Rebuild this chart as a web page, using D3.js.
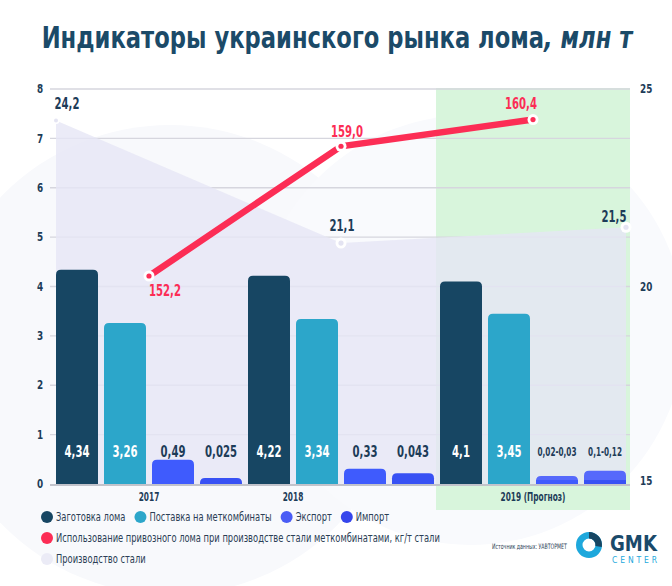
<!DOCTYPE html>
<html><head><meta charset="utf-8">
<script src="https://cdn.jsdelivr.net/npm/d3@7"></script>
<style>
body{margin:0;background:#fff}
svg{display:block}
text{font-family:"DejaVu Sans Condensed","DejaVu Sans","Noto Sans",sans-serif}
</style>
</head><body>
<svg id="c" width="672" height="586"></svg>
<script>
// ---------- data ----------
const years = ["2017", "2018", "2019"];
const yearLabels = ["2017", "2018", "2019 (Прогноз)"];
const seriesNames = ["Заготовка лома", "Поставка на меткомбинаты", "Экспорт", "Импорт"];
const scrapCollection = [4.34, 4.22, 4.1];
const deliveries = [3.26, 3.34, 3.45];
const exportValues = [0.49, 0.31, 0.16];     // drawn bar heights
const exportLower = [0, 0, 0.08];
const importValues = [0.12, 0.22, 0.27];     // drawn bar heights
const importLower = [0, 0, 0.08];
const barValueLabels = [
  ["4,34", "3,26", "0,49", "0,025"],
  ["4,22", "3,34", "0,33", "0,043"],
  ["4,1", "3,45", "0,02-0,03", "0,1-0,12"]
];
const importedScrapUse = [152.2, 159.0, 160.4];
const importedScrapLabels = ["152,2", "159,0", "160,4"];
const steelProduction = [24.2, 21.1, 21.5];
const steelLabels = ["24,2", "21,1", "21,5"];
const leftTicks = [0, 1, 2, 3, 4, 5, 6, 7, 8];
const rightTicks = [15, 20, 25];
const lineLegend = "Использование привозного лома при производстве стали меткомбинатами, кг/т стали";
const areaLegend = "Производство стали";
const sourceText = "Источник данных: УАВТОРМЕТ";

// ---------- style / layout ----------
const C = {
  dark: "#174663", light: "#2ca6ca", exp: "#3f5bfd", imp: "#3851f4", expTop: "#5669fb",
  red: "#fc2d55", area: "#e6e6f5", green: "#d8f5dc", text: "#1d3c58", grid: "#d6d6de"
};
const barColors = [C.dark, C.light, C.exp, C.imp];
const legendColors = [C.dark, C.light, "#4a5cf5", "#3646ec"];
const redLabelOffset = [[16, 14], [6, -15], [-12, -16]];
const areaLabelOffset = [[11, -17], [1, -18], [-12, -11]];
const yearLabelShift = [0, -1, 0]; // in bar steps

const svg = d3.select("#c");
const plotL = 50, plotR = 630, plotT = 89, plotB = 484;

// condensed-text helpers (emulate a condensed typeface with a horizontal scale)
function measure(str, size, weight) {
  const t = svg.append("text").attr("font-size", size).attr("font-weight", weight || "normal").text(str);
  const w = t.node().getComputedTextLength(); t.remove(); return w;
}
function condenser(sample, size, weight, target) { return target / measure(sample, size, weight); }
function squeeze(t, f) {
  const w = t.node().getComputedTextLength();
  const tx = +t.attr("x") || 0, ty = +t.attr("y") || 0;
  t.attr("x", 0).attr("y", 0).attr("transform", `translate(${tx},${ty}) scale(${f},1)`);
  return w * f;
}
const fBig = condenser("152,2", 15.5, "bold", 32);
const fSmall = condenser("0,02-0,03", 11.5, "bold", 39);
const fYear = condenser("2019 (Прогноз)", 12, "bold", 65);
const fLeg = condenser(lineLegend, 12.5, "normal", 384);
const fSrc = condenser(sourceText, 7.5, "normal", 75);
const fTick = 0.82;

// decorative background circles
svg.append("circle").attr("cx", 170).attr("cy", 360).attr("r", 235).attr("fill", "#f8f9fc");
svg.append("circle").attr("cx", 470).attr("cy", 330).attr("r", 215).attr("fill", "#f9fafd");

// scales
const barKeys = [];
years.forEach((y, gi) => seriesNames.forEach((s, si) => barKeys.push(gi + "-" + si)));
const x = d3.scaleBand().domain(barKeys).range([50, 632]).paddingInner(0.125).paddingOuter(0.125);
const bw = x.bandwidth();
const yL = d3.scaleLinear().domain([0, 8]).range([plotB, plotT]);
const yR = d3.scaleLinear().domain([15, 25]).range([plotB, plotT]);
const yRed = d3.scaleLinear().domain([141.3, 162.0]).range([plotB, plotT]);
const groupCenter = gi => (x(gi + "-0") + x(gi + "-3") + bw) / 2;
const xArea = d3.scalePoint().domain(years).range([x("0-0"), x("2-3") + bw]);

// green forecast band
const bandL = x("2-0") - x.step() * x.paddingInner() / 2 - 1;
svg.append("rect").attr("x", bandL).attr("y", plotT - 1).attr("width", plotR - bandL)
  .attr("height", 511 - plotT).attr("fill", C.green);

// gridlines
svg.append("g").selectAll("line").data(leftTicks.filter(d => d > 0)).join("line")
  .attr("x1", plotL).attr("x2", plotR).attr("y1", d => yL(d)).attr("y2", d => yL(d))
  .attr("stroke", C.grid).attr("stroke-width", 1.3);

// area (steel production)
const area = d3.area().x((d, i) => xArea(years[i])).y0(plotB).y1(d => yR(d));
svg.append("path").datum(steelProduction).attr("d", area).attr("fill", C.area).attr("opacity", 0.8);

// baseline
svg.append("line").attr("x1", plotL).attr("x2", plotR).attr("y1", plotB + 1).attr("y2", plotB + 1)
  .attr("stroke", "#c2c3cb").attr("stroke-width", 2);

// bars
function topRounded(x0, y0, w, h, r) {
  r = Math.min(r, h, w / 2);
  return `M${x0},${y0 + h}V${y0 + r}Q${x0},${y0} ${x0 + r},${y0}H${x0 + w - r}Q${x0 + w},${y0} ${x0 + w},${y0 + r}V${y0 + h}Z`;
}
const bars = [];
years.forEach((y, gi) => {
  const vals = [scrapCollection[gi], deliveries[gi], exportValues[gi], importValues[gi]];
  const lows = [0, 0, exportLower[gi], importLower[gi]];
  vals.forEach((v, si) => bars.push({gi, si, v, low: lows[si], label: barValueLabels[gi][si]}));
});
const gb = svg.append("g");
bars.forEach(b => {
  const x0 = x(b.gi + "-" + b.si);
  const isRange = b.low > 0;
  gb.append("path").attr("d", topRounded(x0, yL(b.v), bw, plotB - yL(b.v), 5))
    .attr("fill", isRange ? C.expTop : barColors[b.si]);
  if (isRange) {
    gb.append("rect").attr("x", x0).attr("y", yL(b.low)).attr("width", bw)
      .attr("height", plotB - yL(b.low)).attr("fill", barColors[b.si]);
  }
  const small = b.label.includes("-");
  const t = gb.append("text").attr("x", x0 + bw / 2).attr("y", small ? 456 : 457)
    .attr("text-anchor", "middle").attr("font-weight", "bold")
    .attr("font-size", small ? 11.5 : 15.5)
    .attr("fill", b.si < 2 ? "#ffffff" : C.text).text(b.label);
  squeeze(t, small ? fSmall : fBig);
});

// red line
const redLine = d3.line().x((d, i) => groupCenter(i)).y(d => yRed(d));
svg.append("path").datum(importedScrapUse).attr("d", redLine).attr("fill", "none")
  .attr("stroke", C.red).attr("stroke-width", 6.5);
importedScrapUse.forEach((v, i) => {
  const cx = groupCenter(i), cy = yRed(v);
  svg.append("circle").attr("cx", cx).attr("cy", cy).attr("r", 5.5).attr("fill", "#fff");
  svg.append("circle").attr("cx", cx).attr("cy", cy).attr("r", 2.6).attr("fill", C.red);
  const t = svg.append("text").attr("x", cx + redLabelOffset[i][0]).attr("y", cy + redLabelOffset[i][1])
    .attr("dy", "0.36em").attr("text-anchor", "middle").attr("font-weight", "bold")
    .attr("font-size", 15.5).attr("fill", C.red).text(importedScrapLabels[i]);
  squeeze(t, fBig);
});

// area markers & labels
steelProduction.forEach((v, i) => {
  const cx = xArea(years[i]), cy = yR(v);
  svg.append("circle").attr("cx", cx).attr("cy", cy).attr("r", i === 0 ? 3.5 : 5.5).attr("fill", "#fff");
  svg.append("circle").attr("cx", cx).attr("cy", cy).attr("r", i === 0 ? 2 : 2.6).attr("fill", "#e4e4f2");
  const t = svg.append("text").attr("x", cx + areaLabelOffset[i][0]).attr("y", cy + areaLabelOffset[i][1])
    .attr("dy", "0.36em").attr("text-anchor", "middle").attr("font-weight", "bold")
    .attr("font-size", 15.5).attr("fill", C.text).text(steelLabels[i]);
  squeeze(t, fBig);
});

// axes labels
svg.append("g").selectAll("text").data(leftTicks).join("text")
  .attr("x", 40).attr("y", d => yL(d)).attr("dy", "0.35em").attr("text-anchor", "middle")
  .attr("font-weight", "bold").attr("font-size", 12).attr("fill", C.text).text(d => d)
  .each(function () { squeeze(d3.select(this), fTick); });
svg.append("g").selectAll("text").data(rightTicks).join("text")
  .attr("x", 640).attr("y", d => yR(d) - (d === 15 ? 3 : 0)).attr("dy", "0.35em")
  .attr("font-weight", "bold").attr("font-size", 12).attr("fill", C.text).text(d => d)
  .each(function () { squeeze(d3.select(this), fTick); });
svg.append("g").selectAll("text").data(yearLabels).join("text")
  .attr("x", (d, i) => groupCenter(i) + yearLabelShift[i] * x.step()).attr("y", 497).attr("dy", "0.35em")
  .attr("text-anchor", "middle").attr("font-weight", "bold").attr("font-size", 12)
  .attr("fill", C.text).text(d => d)
  .each(function () { squeeze(d3.select(this), fYear); });

// title
const title = svg.append("text").attr("text-anchor", "middle")
  .attr("font-weight", "bold").attr("font-size", 30).attr("fill", "#1b4a68");
title.append("tspan").text("Индикаторы украинского рынка лома");
title.append("tspan").attr("font-style", "italic").text(", млн т");
const tw = title.node().getComputedTextLength();
title.attr("transform", `translate(337,48) scale(${591 / tw},1)`);

// legend
const legRowY = [517, 538, 559];
let lx = 47;
seriesNames.forEach((s, i) => {
  svg.append("circle").attr("cx", lx).attr("cy", legRowY[0]).attr("r", 6).attr("fill", legendColors[i]);
  const t = svg.append("text").attr("x", lx + 9).attr("y", legRowY[0]).attr("dy", "0.35em")
    .attr("font-size", 12.5).attr("fill", "#2b3e55").text(s);
  const w = squeeze(t, fLeg);
  lx = lx + 9 + w + 15;
});
[[C.red, lineLegend], ["#ebebf6", areaLegend]].forEach(([c, s], i) => {
  svg.append("circle").attr("cx", 47).attr("cy", legRowY[i + 1]).attr("r", 6).attr("fill", c);
  const t = svg.append("text").attr("x", 56).attr("y", legRowY[i + 1]).attr("dy", "0.35em")
    .attr("font-size", 12.5).attr("fill", "#2b3e55").text(s);
  squeeze(t, fLeg);
});

// source & logo
const src = svg.append("text").attr("x", 492).attr("y", 546).attr("dy", "0.35em").attr("font-size", 7.5)
  .attr("fill", "#2b3e55").text(sourceText);
squeeze(src, fSrc);
const arc = d3.arc().innerRadius(6.5).outerRadius(13);
const lg = svg.append("g").attr("transform", "translate(589,545)");
lg.append("path").attr("d", arc({startAngle: 0, endAngle: Math.PI * 2})).attr("fill", "#1ea8dc");
lg.append("path").attr("d", arc({startAngle: 0, endAngle: Math.PI * 0.55})).attr("fill", "#174663");
const gmk = svg.append("text").attr("x", 610).attr("y", 551).attr("font-size", 22).attr("font-weight", "bold")
  .attr("font-family", "'Liberation Sans','DejaVu Sans',sans-serif").attr("fill", "#1a4a6a").text("GMK");
squeeze(gmk, 47 / gmk.node().getComputedTextLength());
svg.append("text").attr("x", 612).attr("y", 563).attr("font-size", 8.5)
  .attr("font-family", "'Liberation Sans','DejaVu Sans',sans-serif").attr("fill", "#1ea8dc")
  .attr("textLength", 45).attr("lengthAdjust", "spacing").text("CENTER");
</script>
</body></html>
